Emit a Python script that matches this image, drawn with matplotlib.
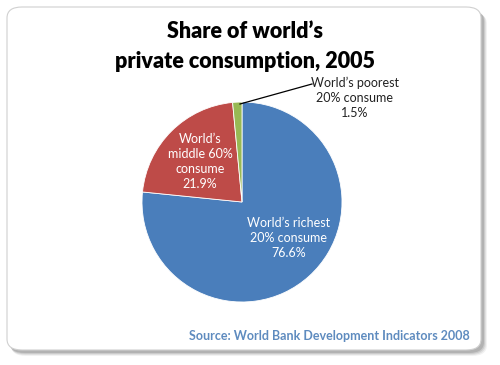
import matplotlib
matplotlib.use("Agg")
import matplotlib.pyplot as plt
from matplotlib.patches import FancyBboxPatch

categories = ["World\u2019s richest\n20% consume", "World\u2019s\nmiddle 60%\nconsume", "World\u2019s poorest\n20% consume"]
values = [76.6, 21.9, 1.5]
colors = ["#4A7EBB", "#BE4B48", "#98B954"]

W, H = 500, 365
fig = plt.figure(figsize=(W/100, H/100), dpi=100)
fig.patch.set_facecolor("white")

def px(x, y):
    return x / W, 1 - y / H

# card shadow
for i, a in enumerate([0.05, 0.07, 0.09, 0.12]):
    off = 4 - i
    sh = FancyBboxPatch((9/W + off/W*0.5, 1 - (352+off)/H), (474+off*0.5)/W, (343)/H,
                        boxstyle="round,pad=0,rounding_size=0.03", transform=fig.transFigure,
                        facecolor="black", edgecolor="none", alpha=a, zorder=-3)
    fig.patches.append(sh)
card = FancyBboxPatch((7/W, 1 - 350/H), 474/W, 343/H,
                      boxstyle="round,pad=0,rounding_size=0.03", transform=fig.transFigure,
                      facecolor="white", edgecolor="#D0D0D0", linewidth=0.8, zorder=-2)
fig.patches.append(card)

cx, cy, r = 242, 202, 100
ax = fig.add_axes([(cx - r)/W, 1 - (cy + r)/H, 2*r/W, 2*r/H])
ax.set_zorder(1)
ax.patch.set_visible(False)
wedges, _ = ax.pie(values, colors=colors, startangle=90, counterclock=False,
                   wedgeprops=dict(linewidth=0.6, edgecolor="white"))
ax.set_aspect("auto")
ax.set_xlim(-1, 1); ax.set_ylim(-1, 1)
ax.axis("off")

font = "Lato"
fig.text(*px(245, 32), "Share of world\u2019s", ha="center", va="center",
         fontsize=15.5, fontweight="heavy", family=font, zorder=3)
fig.text(*px(245, 62), "private consumption, 2005", ha="center", va="center",
         fontsize=15.5, fontweight="heavy", family=font, zorder=3)

fig.text(*px(289, 238), categories[0] + f"\n{values[0]}%", ha="center", va="center",
         fontsize=9, color="white", family=font, linespacing=1.3, zorder=3)
fig.text(*px(200, 162), categories[1] + f"\n{values[1]}%", ha="center", va="center",
         fontsize=9, color="white", family=font, linespacing=1.3, zorder=3)
fig.text(*px(355, 98), categories[2] + f"\n{values[2]}%", ha="center", va="center",
         fontsize=9, color="#222222", family=font, linespacing=1.3, zorder=3)

# leader line from green wedge to label
fig.add_artist(plt.Line2D([240/W, 312/W], [1 - 104/H, 1 - 84/H], color="black", linewidth=0.9,
                          transform=fig.transFigure, zorder=3))

fig.text(*px(470, 336), "Source: World Bank Development Indicators 2008", ha="right", va="center",
         fontsize=9, fontweight="bold", color="#5E8BBF", family=font, zorder=3)

fig.savefig("out.png", dpi=100)
